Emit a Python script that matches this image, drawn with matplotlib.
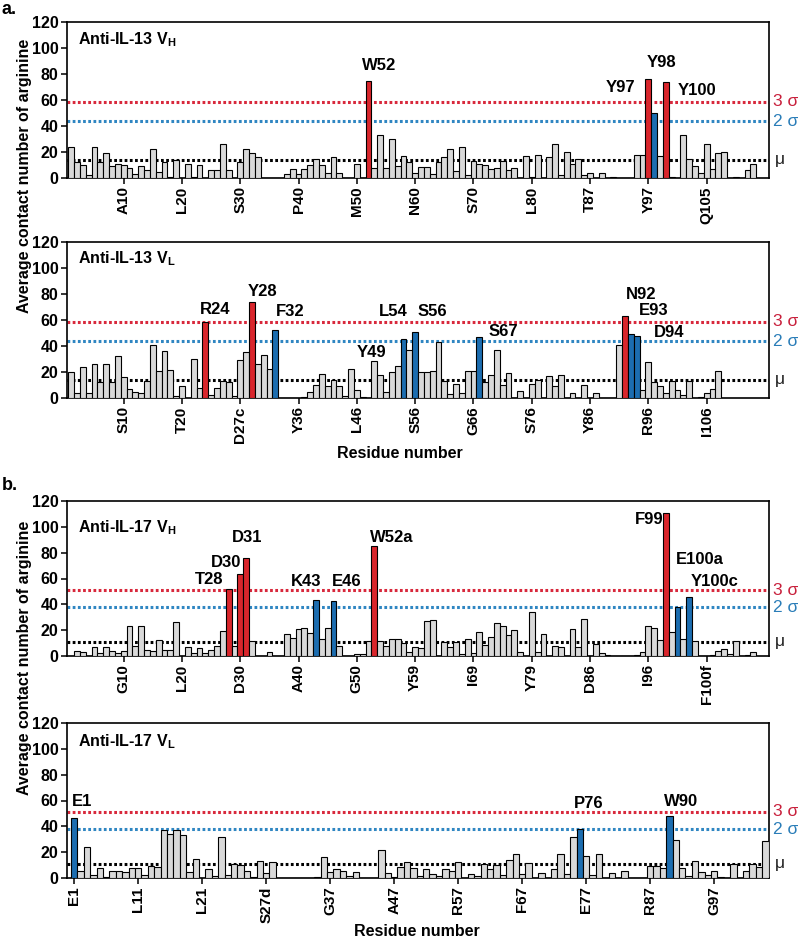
import matplotlib
matplotlib.use('Agg')
import matplotlib.pyplot as plt
from matplotlib.transforms import blended_transform_factory

plt.rcParams['font.family'] = ['Liberation Sans', 'DejaVu Sans']
plt.rcParams['mathtext.fontset'] = 'custom'
plt.rcParams['mathtext.rm'] = 'Liberation Sans'
plt.rcParams['mathtext.bf'] = 'Liberation Sans:bold'

# ---------------- data ----------------
il13_vh_values = [24, 12, 10, 2, 24, 12, 19, 9, 11, 10, 8, 3, 9, 6, 22, 5, 12, 1,
                  14, 0, 11, 1, 10, 0, 6, 6, 26, 6, 0, 12, 22, 19, 16,
                  0, 0, 0, 0,
                  3, 7, 3, 7, 10, 15, 10, 4, 16, 4, 0, 0, 11, 0,
                  75, 7.7, 32.7, 7.7, 30, 9.5, 17.3, 12, 3.9, 8.2, 8.2, 3, 12, 16.5, 22.4, 5.7, 24.2, 2.6, 13.4,
                  11, 10, 7, 8, 13, 6, 8, 0, 17, 1, 18, 0, 16, 26, 2, 20, 11, 15, 2, 4, 0, 4, 0, 1, 0, 0, 0,
                  18, 18, 76, 50, 17, 74, 1, 0, 33, 15, 9, 4, 26, 7, 19, 20, 0, 1, 0, 6, 10.5]
il13_vh_red = [51, 99, 102]
il13_vh_blue = [100]
il13_vh_tick_pos = [9, 19, 29, 39, 49, 59, 69, 79, 89, 99, 109]
il13_vh_tick_labels = ['A10', 'L20', 'S30', 'P40', 'M50', 'N60', 'S70', 'L80', 'T87', 'Y97', 'Q105']
il13_vh_sigma = [58.5, 43.7, 14.0]   # 3 sigma, 2 sigma, mu
il13_vh_names = ['W52', 'Y97', 'Y98', 'Y100']

il13_vl_values = [20, 4, 24, 4, 26, 12, 26, 12, 32, 16, 7, 5, 3.5, 13, 41, 21, 36, 21.5, 1.5, 9.5, 0, 30, 8,
                  58.5, 2, 7.5, 13, 12, 1.5, 29, 35.5, 73.6, 26, 33, 22, 52.6,
                  0, 0, 0, 0,
                  1, 4.5, 10, 18.5, 9, 13.5, 9.5, 1.5, 22, 6, 1, 0, 28.5, 18, 5, 20, 25,
                  45.6, 37, 51, 20, 20, 21, 43, 13, 3, 11, 4, 21, 21, 47, 12, 18, 37, 10, 19, 0, 5.6, 0, 11, 13.6,
                  0, 17, 9, 18, 0, 4, 0, 10, 0, 4, 0, 0, 0,
                  41, 63, 49, 47.5, 6, 28, 12, 9.5, 4, 13, 6, 2.5, 13, 0, 1, 3.6, 7, 20.5]
il13_vl_red = [23, 31, 95]
il13_vl_blue = [35, 57, 59, 70, 96, 97]
il13_vl_tick_pos = [9, 19, 29, 39, 49, 59, 69, 79, 89, 99, 109]
il13_vl_tick_labels = ['S10', 'T20', 'D27c', 'Y36', 'L46', 'S56', 'G66', 'S76', 'Y86', 'R96', 'I106']
il13_vl_sigma = [58.5, 43.7, 14.0]
il13_vl_names = ['R24', 'Y28', 'F32', 'Y49', 'L54', 'S56', 'S67', 'N92', 'E93', 'D94']

il17_vh_values = [0, 3.6, 3, 0, 7, 2, 7, 3.6, 2, 3.6, 23.4, 8, 23.4, 5, 4, 12.6, 4.6, 4.6, 26.5, 0,
                  7, 2, 6, 2, 5, 7.5, 19, 51.8, 7.5, 63.6, 75.5, 11.6,
                  0, 0, 2.8, 0, 0,
                  16.7, 13.6, 20.6, 22, 17.8, 43, 13.4, 21.6, 42.5, 8, 0, 0, 1.5, 1.3, 12, 85, 11.3, 8, 12.9, 13,
                  9.8, 2.8, 6.7, 6, 27, 28, 0, 10.5, 6.7, 10.5, 1.5, 13.4, 2.6, 18.8, 8.2, 15, 25.5, 23.4, 16.5, 20.3,
                  3.3, 0, 33.7, 3, 17, 0, 7.5, 7, 0, 21, 6.7, 28.8, 0, 9.3, 2.3, 1, 0, 0, 0, 0,
                  0.5, 3.3, 23, 22, 12.6, 110.7, 18.5, 38, 12.9, 45.3, 11.3, 0, 0, 0.8, 3.9, 5.2, 1.3, 11.3, 0, 1, 2.8]
il17_vh_red = [27, 29, 30, 52, 102]
il17_vh_blue = [42, 45, 104, 106]
il17_vh_tick_pos = [9, 19, 29, 39, 49, 59, 69, 79, 89, 99, 109]
il17_vh_tick_labels = ['G10', 'L20', 'D30', 'A40', 'G50', 'Y59', 'I69', 'Y79', 'D86', 'I96', 'F100f']
il17_vh_sigma = [51.0, 37.9, 11.0]
il17_vh_names = ['T28', 'D30', 'D31', 'K43', 'E46', 'W52a', 'F99', 'E100a', 'Y100c']

il17_vl_values = [46.6, 5.5, 24, 2, 8, 1, 5.5, 5.5, 4.4, 8, 8, 2, 9, 8.5, 37, 34, 37, 33, 5, 14.5, 0,
                  7, 1.5, 31.5, 2, 11, 10, 5.5, 1, 13.5, 4, 12.5,
                  0, 0, 0, 0, 0, 0,
                  1, 16.3, 4.4, 7.3, 5.4, 1.8, 4.4, 0, 0, 0, 21.5, 4.1, 1, 8.5,
                  12.4, 8, 1.5, 7.3, 3.4, 1.3, 7.3, 5.2, 12.4, 0, 2.8, 1.3, 11, 6.7, 9.8, 2.3, 13.7, 18.9, 3.4, 11.7,
                  0, 3.6, 0, 7, 18.9, 3.4, 31.6, 37.8, 17, 2.3, 18.4, 0, 3.9, 0, 5.4, 0, 0, 0, 9.3, 9,
                  7.8, 48, 29.3, 7.8, 1.3, 13.2, 4.7, 2.3, 5.2, 0.8, 0, 10.6, 0, 5.2, 11, 8.5, 28.5]
il17_vl_red = []
il17_vl_blue = [0, 79, 93]
il17_vl_tick_pos = [0, 10, 20, 30, 40, 50, 60, 70, 80, 90, 100]
il17_vl_tick_labels = ['E1', 'L11', 'L21', 'S27d', 'G37', 'A47', 'R57', 'F67', 'E77', 'R87', 'G97']
il17_vl_sigma = [51.3, 37.8, 11.1]
il17_vl_names = ['E1', 'P76', 'W90']

# ---------------- style / layout ----------------
GRAY = '#d9d9d9'
RED = '#d9262c'
BLUE = '#1c6db0'
LRED = '#d8283c'
LBLUE = '#2f86c2'
W, H = 800, 939

fig = plt.figure(figsize=(W / 100, H / 100), dpi=100)


def add_ax(left, right, top, bottom):
    return fig.add_axes([left / W, 1 - bottom / H, (right - left) / W, (bottom - top) / H])


panels = [
    dict(vals=il13_vh_values, red=il13_vh_red, blue=il13_vh_blue, tpos=il13_vh_tick_pos,
         tlab=il13_vh_tick_labels, sig=il13_vh_sigma, names=il13_vh_names,
         box=(67, 769, 22, 178), pitch=5.83, x0=71.2,
         title=r'Anti-IL-13 V$_\mathbf{H}$', tbase=0.86,
         npos=[(52.8, 86.5, 'center'), (94.3, 69.6, 'center'), (101.3, 88.8, 'center'), (107.4, 67.0, 'center')]),
    dict(vals=il13_vl_values, red=il13_vl_red, blue=il13_vl_blue, tpos=il13_vl_tick_pos,
         tlab=il13_vl_tick_labels, sig=il13_vl_sigma, names=il13_vl_names,
         box=(67, 769, 242, 398), pitch=5.83, x0=71.2,
         title=r'Anti-IL-13 V$_\mathbf{L}$', tbase=0.865,
         npos=[(24.75, 68.2, 'center'), (32.8, 82, 'center'), (37.5, 66.7, 'center'), (51.5, 34.8, 'center'),
               (55.2, 66.7, 'center'), (61.9, 66.7, 'center'), (74.2, 51, 'center'), (97.7, 79.8, 'center'),
               (99.9, 67.5, 'center'), (102.5, 50.5, 'center')]),
    dict(vals=il17_vh_values, red=il17_vh_red, blue=il17_vh_blue, tpos=il17_vh_tick_pos,
         tlab=il17_vh_tick_labels, sig=il17_vh_sigma, names=il17_vh_names,
         box=(67, 769, 501, 656), pitch=5.83, x0=71.2,
         title=r'Anti-IL-17 V$_\mathbf{H}$', tbase=0.795,
         npos=[(23.6, 59.1, 'center'), (26.6, 72.3, 'center'), (30.2, 91.6, 'center'), (40.3, 58, 'center'),
               (47.3, 58, 'center'), (54.9, 91.6, 'center'), (99.1, 105.9, 'center'), (107.8, 75, 'center'),
               (110.4, 58, 'center')]),
    dict(vals=il17_vl_values, red=il17_vl_red, blue=il17_vl_blue, tpos=il17_vl_tick_pos,
         tlab=il17_vl_tick_labels, sig=il17_vl_sigma, names=il17_vl_names,
         box=(67, 769, 723, 878), pitch=6.4, x0=74.2,
         title=r'Anti-IL-17 V$_\mathbf{L}$', tbase=0.848,
         npos=[(1.2, 59.6, 'center'), (80.4, 58, 'center'), (94.8, 59.6, 'center')]),
]

for p in panels:
    l, r, t, b = p['box']
    ax = add_ax(l, r, t, b)
    vals = p['vals']
    n = len(vals)
    colors = []
    for i in range(n):
        if i in p['red']:
            colors.append(RED)
        elif i in p['blue']:
            colors.append(BLUE)
        else:
            colors.append(GRAY)
    ax.bar(range(n), vals, width=1.0, color=colors, edgecolor='black', linewidth=0.8, zorder=3)
    ax.set_xlim((l - p['x0']) / p['pitch'], (r - p['x0']) / p['pitch'])
    ax.set_ylim(0, 120)
    ax.set_yticks(range(0, 121, 20))
    ax.set_yticklabels([str(v) for v in range(0, 121, 20)], fontsize=11.5, fontweight='bold')
    ax.set_xticks(p['tpos'])
    ax.set_xticklabels(p['tlab'], rotation=90, fontsize=11, fontweight='bold')
    ax.tick_params(axis='both', direction='out', length=4, width=1.1, pad=2)
    for s in ax.spines.values():
        s.set_linewidth(1.2)
    # threshold lines
    s3, s2, mu = p['sig']
    for yv, c in ((s3, LRED), (s2, LBLUE), (mu, 'black')):
        ax.axhline(yv, color=c, linestyle=(0, (0.9, 0.8)), linewidth=2.2, zorder=2)
    tr = blended_transform_factory(ax.transAxes, ax.transData)
    ax.text(1.006, s3, '3 σ', color='#c8203c', fontsize=12.5, va='center', ha='left', transform=tr)
    ax.text(1.006, s2, '2 σ', color='#2a7db8', fontsize=12.5, va='center', ha='left', transform=tr)
    ax.text(1.008, mu, 'μ', color='#222222', fontsize=12.5, va='center', ha='left', transform=tr)
    # title
    ax.text(0.0157, p['tbase'], p['title'], transform=ax.transAxes, fontsize=11.5,
            fontweight='bold', ha='left', va='baseline')
    # residue names
    for name, (xx, yy, ha) in zip(p['names'], p['npos']):
        ax.text(xx, yy, name, fontsize=12, fontweight='bold', ha=ha, va='center', zorder=5)

# axis labels
fig.text(25 / W, 1 - 176 / H, 'Average contact number of arginine', rotation=90,
         ha='center', va='center', fontsize=11.5, fontweight='bold')
fig.text(25 / W, 1 - 658 / H, 'Average contact number of arginine', rotation=90,
         ha='center', va='center', fontsize=11.5, fontweight='bold')
fig.text(400 / W, 1 - 454 / H, 'Residue number', ha='center', va='center', fontsize=11.5, fontweight='bold')
fig.text(417 / W, 1 - 931 / H, 'Residue number', ha='center', va='center', fontsize=11.5, fontweight='bold')
fig.text(2 / W, 1 - 9 / H, 'a.', ha='left', va='center', fontsize=13, fontweight='bold')
fig.text(2 / W, 1 - 486 / H, 'b.', ha='left', va='center', fontsize=13, fontweight='bold')

fig.savefig('out.png', dpi=100)
